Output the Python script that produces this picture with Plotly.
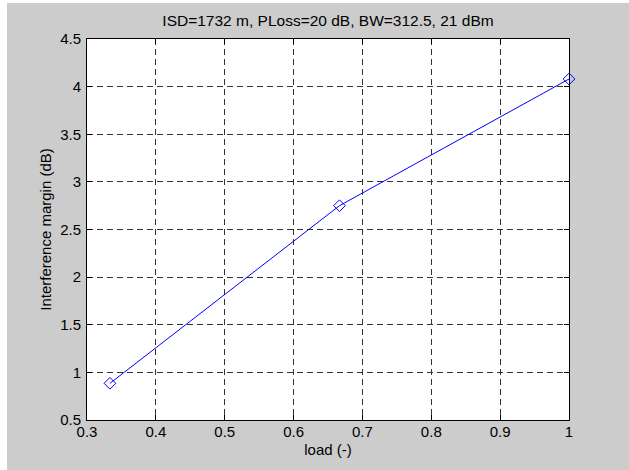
import plotly.graph_objects as go

load = [1/3, 2/3, 1.0]
margin_db = [0.885, 2.75, 4.08]
x_ticks = [0.3, 0.4, 0.5, 0.6, 0.7, 0.8, 0.9, 1.0]
x_tick_labels = ["0.3", "0.4", "0.5", "0.6", "0.7", "0.8", "0.9", "1"]
y_ticks = [0.5, 1, 1.5, 2, 2.5, 3, 3.5, 4, 4.5]
y_tick_labels = ["0.5", "1", "1.5", "2", "2.5", "3", "3.5", "4", "4.5"]

W, H = 629, 470
L, R, T, B = 87, 569, 39, 420
pw, ph = R - L, B - T

def px_x(p):
    return (p - L) / pw

def px_y(p):
    return (B - p) / ph

fig = go.Figure()
fig.add_trace(go.Scatter(
    x=load, y=margin_db, mode="lines+markers",
    line=dict(color="#0000ff", width=1),
    marker=dict(symbol="diamond-open", size=9, color="#0000ff", line=dict(width=1)),
    cliponaxis=False, showlegend=False,
))

font = "Liberation Sans, Arial, sans-serif"
fig.update_layout(
    width=W, height=H,
    margin=dict(l=L, r=W - R, t=T, b=H - B, pad=0),
    paper_bgcolor="white",
    plot_bgcolor="white",
    font=dict(family=font, size=15, color="black"),
    title=dict(text="ISD=1732 m, PLoss=20 dB, BW=312.5, 21 dBm",
               x=0.5, xref="paper", xanchor="center",
               y=1 - 20.5 / H, yref="container", yanchor="middle",
               font=dict(size=15.5)),
    shapes=[
        dict(type="rect", xref="paper", yref="paper", layer="below",
             x0=px_x(7), x1=px_x(W + 5), y0=px_y(H + 5), y1=px_y(3),
             fillcolor="#cccccc", line=dict(width=0)),
        dict(type="rect", xref="paper", yref="paper", layer="below",
             x0=0, x1=1, y0=0, y1=1,
             fillcolor="white", line=dict(width=0)),
    ],
)
fig.update_xaxes(
    range=[0.3, 1.0], tickvals=x_ticks, ticktext=x_tick_labels,
    showline=True, linecolor="black", linewidth=1, mirror="ticks",
    ticks="inside", ticklen=5, tickcolor="black",
    showgrid=True, gridcolor="#333333", gridwidth=1, griddash="6px,4px",
    zeroline=False, tickfont=dict(size=15), ticklabelstandoff=-2,
    title=dict(text="load (-)", font=dict(size=15), standoff=5),
)
fig.update_yaxes(
    range=[0.5, 4.5], tickvals=y_ticks, ticktext=y_tick_labels,
    showline=True, linecolor="black", linewidth=1, mirror="ticks",
    ticks="inside", ticklen=5, tickcolor="black",
    showgrid=True, gridcolor="#333333", gridwidth=1, griddash="6px,4px",
    zeroline=False, tickfont=dict(size=15), ticklabelstandoff=2,
    title=dict(text="Interference margin (dB)", font=dict(size=15), standoff=4),
)

fig.write_html("out.html",
               config={"displayModeBar": False},
               post_script="document.body.style.margin='0px';document.body.style.overflow='hidden';")
